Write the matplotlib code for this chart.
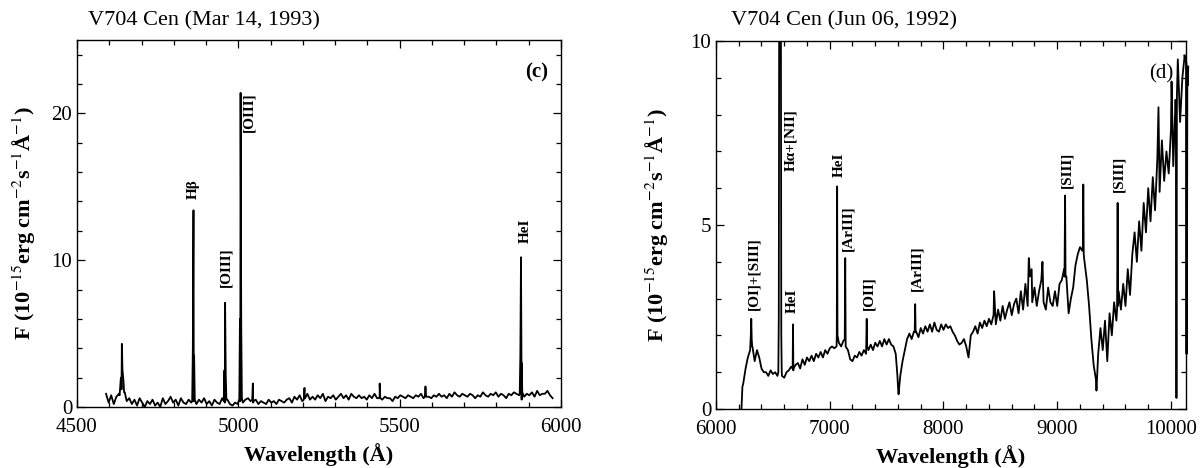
import numpy as np
import matplotlib
matplotlib.use("Agg")
import matplotlib.pyplot as plt
from matplotlib.ticker import MultipleLocator

plt.rcParams['font.family'] = ['Liberation Serif', 'DejaVu Serif']
plt.rcParams['mathtext.fontset'] = 'stix'

# ---- panel (c): V704 Cen, Mar 14 1993 ----
# continuum read every 8 A from 4590 A
c_start, c_step = 4590, 8
c_flux = [
    0.9, 0.3, 0.8, 0.2, 0.7, 0.9, 1.2, 1.0, 0.4, 0.6,
    0.2, 0.5, 0.1, 0.6, 0.3, 0.0, 0.4, 0.2, 0.5, 0.1,
    0.3, 0.0, 0.6, 0.2, 0.4, 0.7, 0.3, 0.5, 0.1, 0.6,
    0.3, 0.2, 0.5, 0.3, 0.4, 0.2, 0.5, 0.3, 0.6, 0.2,
    0.4, 0.1, 0.5, 0.3, 0.2, 0.6, 0.3, 0.5, 0.2, 0.1,
    0.3, 0.2, 0.4, 0.3, 0.5, 0.6, 0.4, 0.3, 0.5, 0.2,
    0.4, 0.3, 0.2, 0.5, 0.3, 0.4, 0.2, 0.5, 0.4, 0.3,
    0.5, 0.6, 0.3, 0.7, 0.5, 0.8, 0.4, 0.6, 0.9, 0.5,
    0.7, 0.5, 0.8, 0.6, 0.9, 0.4, 0.7, 0.6, 0.8, 0.5,
    0.7, 0.9, 0.6, 0.8, 0.5, 0.9, 0.7, 0.6, 0.8, 0.6,
    0.7, 0.5, 0.8, 0.6, 0.9, 0.6, 0.7, 0.5, 0.7, 0.6,
    0.6, 0.4, 0.7, 0.6, 0.8, 0.7, 0.6, 0.8, 0.7, 0.6,
    0.8, 0.7, 0.9, 0.6, 0.8, 0.7, 0.6, 0.8, 0.7, 0.9,
    0.7, 0.8, 0.6, 0.9, 0.7, 1.0, 0.8, 0.7, 0.9, 0.8,
    0.7, 0.9, 0.8, 0.6, 0.8, 0.7, 1.0, 0.8, 0.7, 0.9,
    0.8, 1.0, 0.7, 0.9, 0.8, 0.6, 0.9, 0.8, 1.0, 0.9,
    0.8, 0.5, 0.7, 0.9, 0.8, 1.0, 0.7, 1.1, 0.8, 0.9,
    0.9, 1.1, 0.8, 0.6,
]
# emission lines and spikes
c_line_wl = [4632, 4636, 4639, 4641, 4644, 4648,
             4857, 4859, 4861, 4863, 4865,
             4955, 4957, 4959, 4961, 4963,
             5003, 5005, 5007, 5009, 5011,
             5043, 5045, 5047, 5203, 5205, 5207,
             5436, 5438, 5440, 5578, 5580, 5582,
             5872, 5874, 5876, 5878, 5880]
c_line_flux = [0.8, 2.0, 4.3, 2.5, 1.8, 1.0,
               0.4, 4.0, 13.4, 3.5, 0.5,
               0.4, 2.5, 7.1, 2.2, 0.5,
               0.5, 6.0, 21.4, 5.5, 0.6,
               0.5, 1.6, 0.4, 0.5, 1.3, 0.6,
               0.6, 1.6, 0.6, 0.7, 1.4, 0.7,
               0.9, 3.5, 10.2, 3.0, 1.0]
c_labels = ['H\u03b2', '[OIII]', '[OIII]', 'HeI']
c_label_wl = [4861, 4962, 5032, 5888]
c_label_y = [14.2, 8.2, 21.4, 11.2]
c_label_va = ['bottom', 'bottom', 'top', 'bottom']

# ---- panel (d): V704 Cen, Jun 06 1992 ----
d_start, d_step = 6240, 20
d_flux = [
    0.7, 1.1, 1.4, 1.6, 1.7, 1.3, 1.6, 1.4, 1.1, 1.0,
    1.0, 0.9, 1.05, 0.95, 1.0, 0.9, 12.0, 0.9, 0.85, 1.0,
    1.05, 1.15, 1.05, 1.2, 1.25, 1.1, 1.35, 1.2, 1.4, 1.3,
    1.45, 1.3, 1.5, 1.4, 1.55, 1.4, 1.6, 1.5, 1.65, 1.7,
    1.65, 1.7, 1.8, 1.7, 1.85, 1.7, 1.6, 1.35, 1.3, 1.45,
    1.4, 1.55, 1.45, 1.6, 1.5, 1.6, 1.75, 1.6, 1.8, 1.7,
    1.85, 1.7, 1.9, 1.75, 1.9, 1.75, 1.7, 1.5, 0.6, 0.9,
    1.3, 1.6, 1.9, 2.05, 1.9, 2.1, 2.1, 1.95, 2.2, 2.05,
    2.25, 2.1, 2.3, 2.1, 2.35, 2.15, 2.1, 2.3, 2.15, 2.3,
    2.2, 2.25, 2.1, 2.0, 1.85, 1.75, 1.8, 1.9, 1.7, 1.4,
    2.0, 2.1, 2.25, 2.05, 2.35, 2.2, 2.4, 2.25, 2.45, 2.3,
    2.55, 2.3, 2.7, 2.4, 2.8, 2.45, 2.7, 2.9, 2.55, 2.85,
    3.0, 2.6, 3.2, 2.7, 3.4, 2.8, 3.6, 2.9, 3.3, 2.8,
    3.2, 3.5, 2.9, 2.7, 3.3, 2.9, 2.8, 3.2, 2.8, 3.4,
    3.5, 3.8, 3.6, 2.6, 3.0, 3.3, 3.9, 4.2, 4.4, 4.3,
    4.0, 3.5, 2.8, 1.9, 1.2, 0.8, 1.5, 2.2, 1.6, 2.4,
    1.3, 2.6, 2.0, 2.9, 2.4, 3.2, 2.7, 3.4, 2.8, 3.8,
    3.1, 4.2, 4.8, 4.0, 5.1, 4.3, 5.6, 4.8, 6.0, 5.1,
    6.3, 5.4, 6.8, 5.9, 7.3, 6.2, 7.0, 6.4, 7.6, 6.6,
    8.4, 9.5, 7.8, 9.0, 9.6,
]
d_line_wl = [6224, 6228, 6232,
             6306, 6310, 6314, 6318,
             6548, 6552, 6556, 6570, 6574, 6578,
             6674, 6677, 6680,
             7062, 7065, 7068,
             7132, 7136, 7139,
             7320, 7325, 7329,
             7595, 7605,
             7747, 7751, 7755,
             8445, 8750, 8775, 8870,
             9064, 9069, 9073,
             9225, 9229, 9233,
             9345,
             9526, 9531, 9535,
             9890, 10005, 10044, 10048, 10052]
d_line_flux = [0.0, 0.3, 0.6,
               2.0, 2.45, 1.9, 1.7,
               1.0, 2.5, 12.0, 12.0, 2.0, 1.0,
               1.1, 2.3, 1.1,
               2.0, 6.05, 2.0,
               1.9, 4.1, 1.8,
               1.6, 2.45, 1.7,
               0.9, 0.4,
               2.1, 2.85, 2.1,
               3.2, 4.1, 3.8, 4.0,
               3.6, 5.8, 3.6,
               4.4, 6.1, 4.2,
               0.5,
               2.7, 5.6, 2.8,
               8.2, 8.9, 8.0, 0.3, 8.5]
# trace running past the right frame edge
d_tail_wl = [10120, 10134, 10138, 10142, 10146, 10150]
d_tail_flux = [9.6, 9.4, 1.5, 9.2, 8.8, 9.3]
d_labels = ['[OI]+[SIII]', 'H\u03b1+[NII]', 'HeI', 'HeI', '[ArIII]',
            '[OII]', '[ArIII]', '[SIII]', '[SIII]']
d_label_wl = [6335, 6660, 6668, 7080, 7160, 7345, 7766, 9084, 9541]
d_label_y = [2.7, 8.15, 2.6, 6.3, 4.3, 2.7, 3.2, 6.0, 5.9]
d_label_va = ['bottom', 'top', 'bottom', 'bottom', 'bottom',
              'bottom', 'bottom', 'bottom', 'bottom']


def merge(start, step, flux, lwl, lflux):
    wl = start + step * np.arange(len(flux))
    w = np.concatenate([wl, lwl])
    f = np.concatenate([flux, lflux])
    order = np.argsort(w, kind='stable')
    return w[order], f[order]


def style(ax):
    ax.tick_params(which='both', direction='in', top=True, right=True,
                   labelsize=15, width=0.9)
    ax.tick_params(which='major', length=6)
    ax.tick_params(which='minor', length=3.5)
    ax.tick_params(axis='x', pad=8)
    for s in ax.spines.values():
        s.set_linewidth(1.0)


fig = plt.figure(figsize=(12, 4.68), dpi=100)
ylab = 'F (10$^{-15}$erg cm$^{-2}$s$^{-1}$\u00c5$^{-1}$)'

# panel (c)
ax1 = fig.add_axes([77 / 1200, 61 / 468, 484 / 1200, 367 / 468])
w, f = merge(c_start, c_step, c_flux, c_line_wl, c_line_flux)
ax1.plot(w, f, color='black', lw=1.3)
ax1.set_xlim(4500, 6000)
ax1.set_ylim(0, 25)
ax1.xaxis.set_major_locator(MultipleLocator(500))
ax1.xaxis.set_minor_locator(MultipleLocator(100))
ax1.yaxis.set_major_locator(MultipleLocator(10))
ax1.yaxis.set_minor_locator(MultipleLocator(2))
style(ax1)
ax1.set_xlabel('Wavelength (\u00c5)', fontsize=16, fontweight='bold', labelpad=4)
ax1.set_ylabel(ylab, fontsize=16, fontweight='bold')
ax1.yaxis.set_label_coords(-0.08, 0.5)
for t, x, y, va in zip(c_labels, c_label_wl, c_label_y, c_label_va):
    ax1.text(x, y, t, rotation=90, ha='center', va=va, fontsize=11,
             fontweight='bold')
ax1.text(5925, 22.8, '(c)', ha='center', va='center', fontsize=15,
         fontweight='bold')
fig.text(88 / 1200, 1 - 25 / 468, 'V704 Cen (Mar 14, 1993)', fontsize=16,
         va='baseline')

# panel (d)
ax2 = fig.add_axes([716 / 1200, 59 / 468, 470 / 1200, 368 / 468])
w, f = merge(d_start, d_step, d_flux, d_line_wl, d_line_flux)
ax2.plot(w, f, color='black', lw=1.3)
ax2.plot(d_tail_wl, d_tail_flux, color='black', lw=1.6, clip_on=False)
ax2.set_xlim(6000, 10132)
ax2.set_ylim(0, 10)
ax2.xaxis.set_major_locator(MultipleLocator(1000))
ax2.xaxis.set_minor_locator(MultipleLocator(200))
ax2.yaxis.set_major_locator(MultipleLocator(5))
ax2.yaxis.set_minor_locator(MultipleLocator(1))
style(ax2)
ax2.set_xlabel('Wavelength (\u00c5)', fontsize=16, fontweight='bold', labelpad=4)
ax2.set_ylabel(ylab, fontsize=16, fontweight='bold')
ax2.yaxis.set_label_coords(-0.096, 0.5)
for t, x, y, va in zip(d_labels, d_label_wl, d_label_y, d_label_va):
    ax2.text(x, y, t, rotation=90, ha='center', va=va, fontsize=11,
             fontweight='bold')
ax2.text(9918, 9.1, '(d)', ha='center', va='center', fontsize=15)
fig.text(731 / 1200, 1 - 25 / 468, 'V704 Cen (Jun 06, 1992)', fontsize=16,
         va='baseline')

fig.savefig('out.png', dpi=100)
